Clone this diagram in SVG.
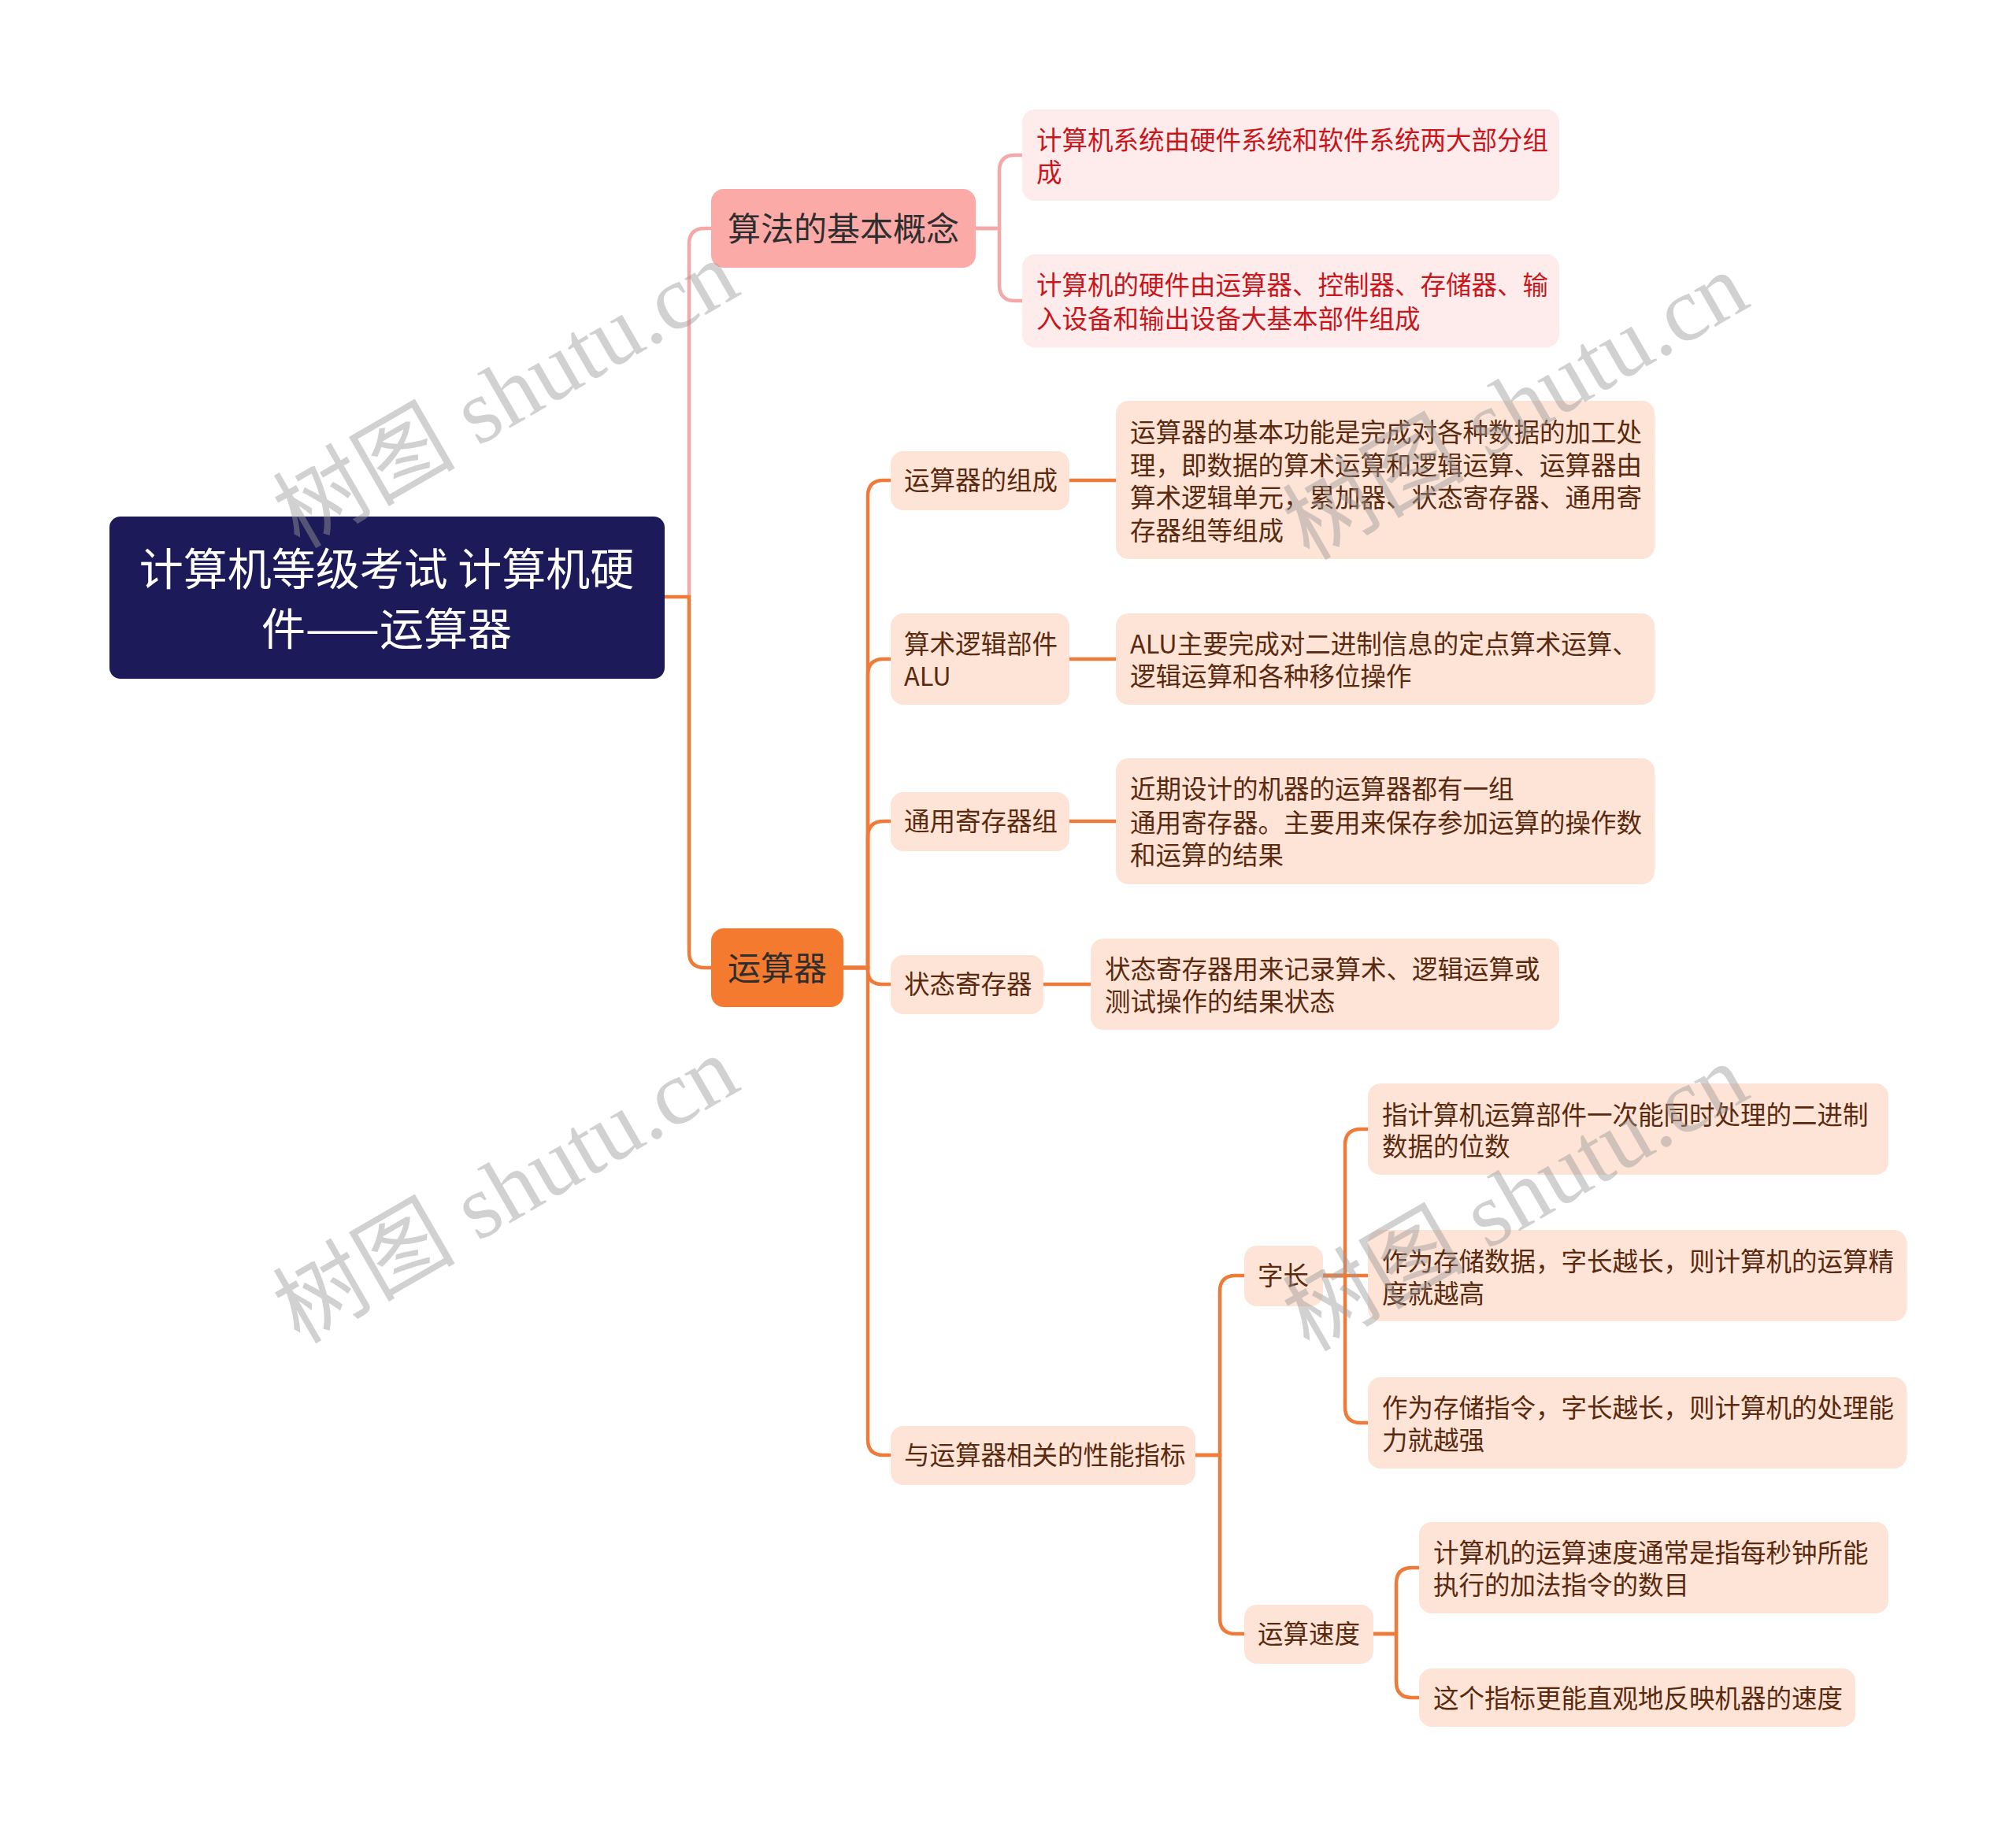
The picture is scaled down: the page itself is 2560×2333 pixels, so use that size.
<svg xmlns="http://www.w3.org/2000/svg" width="2560" height="2333" viewBox="0 0 2560 2333">
<style>
text{font-family:"Noto Sans CJK SC","Noto Sans",sans-serif}
.root rect{fill:#1c1a58}
.root text{fill:#ffffff;font-size:56px;text-anchor:middle}
.l1p rect{fill:#fbaaa8}
.l1o rect{fill:#f47a30}
.l1 text{fill:#2e2e2e;font-size:42px;text-anchor:middle}
.pk rect{fill:#fdeceb}
.pk text{fill:#c8161d;font-size:32.5px}
.pc rect{fill:#fde4d6}
.pc text{fill:#5a2a10;font-size:32.5px}
.cp{fill:none;stroke:#f4a9a8;stroke-width:4.5}
.co{fill:none;stroke:#ef7b3b;stroke-width:4.5}
.wm text{font-family:"Liberation Serif","Noto Sans CJK SC",serif;font-size:116px;fill:#9a9a9a;opacity:0.45;text-anchor:middle}
</style>
<rect width="2560" height="2333" fill="#ffffff"/>
<g id="connectors">
<path class="cp" d="M875,758 V310 Q875,290 895,290 H903"/>
<path class="co" d="M844,758 H875 V1209 Q875,1229 895,1229 H903"/>
<path class="cp" d="M1239,290 H1269 V217 Q1269,197 1289,197 H1298"/>
<path class="cp" d="M1239,290 H1269 V362 Q1269,382 1289,382 H1298"/>
<path class="co" d="M1071,1229 H1102 V630 Q1102,610 1122,610 H1131"/>
<path class="co" d="M1071,1229 H1102 V857 Q1102,837 1122,837 H1131"/>
<path class="co" d="M1071,1229 H1102 V1063 Q1102,1043 1122,1043 H1131"/>
<path class="co" d="M1071,1229 H1102 V1232 Q1102,1250 1120,1250 H1131"/>
<path class="co" d="M1071,1229 H1102 V1828 Q1102,1848 1122,1848 H1131"/>
<path class="co" d="M1358,610 H1417"/>
<path class="co" d="M1358,837 H1417"/>
<path class="co" d="M1358,1043 H1417"/>
<path class="co" d="M1325,1250 H1385"/>
<path class="co" d="M1518,1848 H1549 V1640 Q1549,1620 1569,1620 H1580"/>
<path class="co" d="M1518,1848 H1549 V2055 Q1549,2075 1569,2075 H1580"/>
<path class="co" d="M1680,1620 H1708 V1454 Q1708,1434 1728,1434 H1737"/>
<path class="co" d="M1680,1620 H1737"/>
<path class="co" d="M1680,1620 H1708 V1787 Q1708,1807 1728,1807 H1737"/>
<path class="co" d="M1744,2075 H1773 V2011 Q1773,1991 1793,1991 H1802"/>
<path class="co" d="M1744,2075 H1773 V2136 Q1773,2156 1793,2156 H1802"/>
</g>
<g id="root" class="root">
<rect x="139" y="656" width="705" height="206" rx="14"/>
<text x="491" y="743">计算机等级考试 计算机硬</text>
<text x="491" y="819">件——运算器</text>
</g>
<g id="n-suanfa" class="l1 l1p">
<rect x="903" y="240" width="336" height="100" rx="16"/>
<text x="1071" y="306">算法的基本概念</text>
</g>
<g id="n-suanfa-1" class="pk">
<rect x="1298" y="139" width="682" height="116" rx="16"/>
<text x="1316" y="190">计算机系统由硬件系统和软件系统两大部分组</text>
<text x="1316" y="231">成</text>
</g>
<g id="n-suanfa-2" class="pk">
<rect x="1298" y="323" width="682" height="118" rx="16"/>
<text x="1316" y="374">计算机的硬件由运算器、控制器、存储器、输</text>
<text x="1316" y="417">入设备和输出设备大基本部件组成</text>
</g>
<g id="n-yunsuanqi" class="l1 l1o">
<rect x="903" y="1179" width="168" height="100" rx="16"/>
<text x="987" y="1245">运算器</text>
</g>
<g id="n-zucheng" class="pc">
<rect x="1131" y="573" width="227" height="75" rx="16"/>
<text x="1148" y="622">运算器的组成</text>
</g>
<g id="n-zucheng-d" class="pc">
<rect x="1417" y="509" width="684" height="201" rx="16"/>
<text x="1435" y="561">运算器的基本功能是完成对各种数据的加工处</text>
<text x="1435" y="603">理，即数据的算术运算和逻辑运算、运算器由</text>
<text x="1435" y="644">算术逻辑单元，累加器、状态寄存器、通用寄</text>
<text x="1435" y="686">存器组等组成</text>
</g>
<g id="n-alu" class="pc">
<rect x="1131" y="779" width="227" height="116" rx="16"/>
<text x="1148" y="830">算术逻辑部件</text>
<text x="1148" y="871">ALU</text>
</g>
<g id="n-alu-d" class="pc">
<rect x="1417" y="779" width="684" height="116" rx="16"/>
<text x="1435" y="830">ALU主要完成对二进制信息的定点算术运算、</text>
<text x="1435" y="871">逻辑运算和各种移位操作</text>
</g>
<g id="n-tongyong" class="pc">
<rect x="1131" y="1006" width="227" height="75" rx="16"/>
<text x="1148" y="1055">通用寄存器组</text>
</g>
<g id="n-tongyong-d" class="pc">
<rect x="1417" y="963" width="684" height="160" rx="16"/>
<text x="1435" y="1014">近期设计的机器的运算器都有一组</text>
<text x="1435" y="1057">通用寄存器。主要用来保存参加运算的操作数</text>
<text x="1435" y="1098">和运算的结果</text>
</g>
<g id="n-zhuangtai" class="pc">
<rect x="1131" y="1213" width="194" height="75" rx="16"/>
<text x="1148" y="1262">状态寄存器</text>
</g>
<g id="n-zhuangtai-d" class="pc">
<rect x="1385" y="1192" width="595" height="116" rx="16"/>
<text x="1403" y="1243">状态寄存器用来记录算术、逻辑运算或</text>
<text x="1403" y="1284">测试操作的结果状态</text>
</g>
<g id="n-xingneng" class="pc">
<rect x="1131" y="1811" width="387" height="75" rx="16"/>
<text x="1148" y="1860">与运算器相关的性能指标</text>
</g>
<g id="n-zichang" class="pc">
<rect x="1580" y="1582" width="100" height="77" rx="16"/>
<text x="1597" y="1632">字长</text>
</g>
<g id="n-zichang-1" class="pc">
<rect x="1737" y="1376" width="661" height="116" rx="16"/>
<text x="1755" y="1428">指计算机运算部件一次能同时处理的二进制</text>
<text x="1755" y="1468">数据的位数</text>
</g>
<g id="n-zichang-2" class="pc">
<rect x="1737" y="1562" width="684" height="116" rx="16"/>
<text x="1755" y="1614">作为存储数据，字长越长，则计算机的运算精</text>
<text x="1755" y="1655">度就越高</text>
</g>
<g id="n-zichang-3" class="pc">
<rect x="1737" y="1749" width="684" height="116" rx="16"/>
<text x="1755" y="1800">作为存储指令，字长越长，则计算机的处理能</text>
<text x="1755" y="1841">力就越强</text>
</g>
<g id="n-sudu" class="pc">
<rect x="1580" y="2038" width="164" height="75" rx="16"/>
<text x="1597" y="2087">运算速度</text>
</g>
<g id="n-sudu-1" class="pc">
<rect x="1802" y="1933" width="596" height="116" rx="16"/>
<text x="1820" y="1984">计算机的运算速度通常是指每秒钟所能</text>
<text x="1820" y="2025">执行的加法指令的数目</text>
</g>
<g id="n-sudu-2" class="pc">
<rect x="1802" y="2119" width="554" height="74" rx="16"/>
<text x="1820" y="2169">这个指标更能直观地反映机器的速度</text>
</g>
<g id="watermarks" class="wm">
<text transform="translate(662,535) rotate(-30)">树图 shutu.cn</text>
<text transform="translate(1944,550) rotate(-30)">树图 shutu.cn</text>
<text transform="translate(662,1545) rotate(-30)">树图 shutu.cn</text>
<text transform="translate(1944,1555) rotate(-30)">树图 shutu.cn</text>
</g>
</svg>
